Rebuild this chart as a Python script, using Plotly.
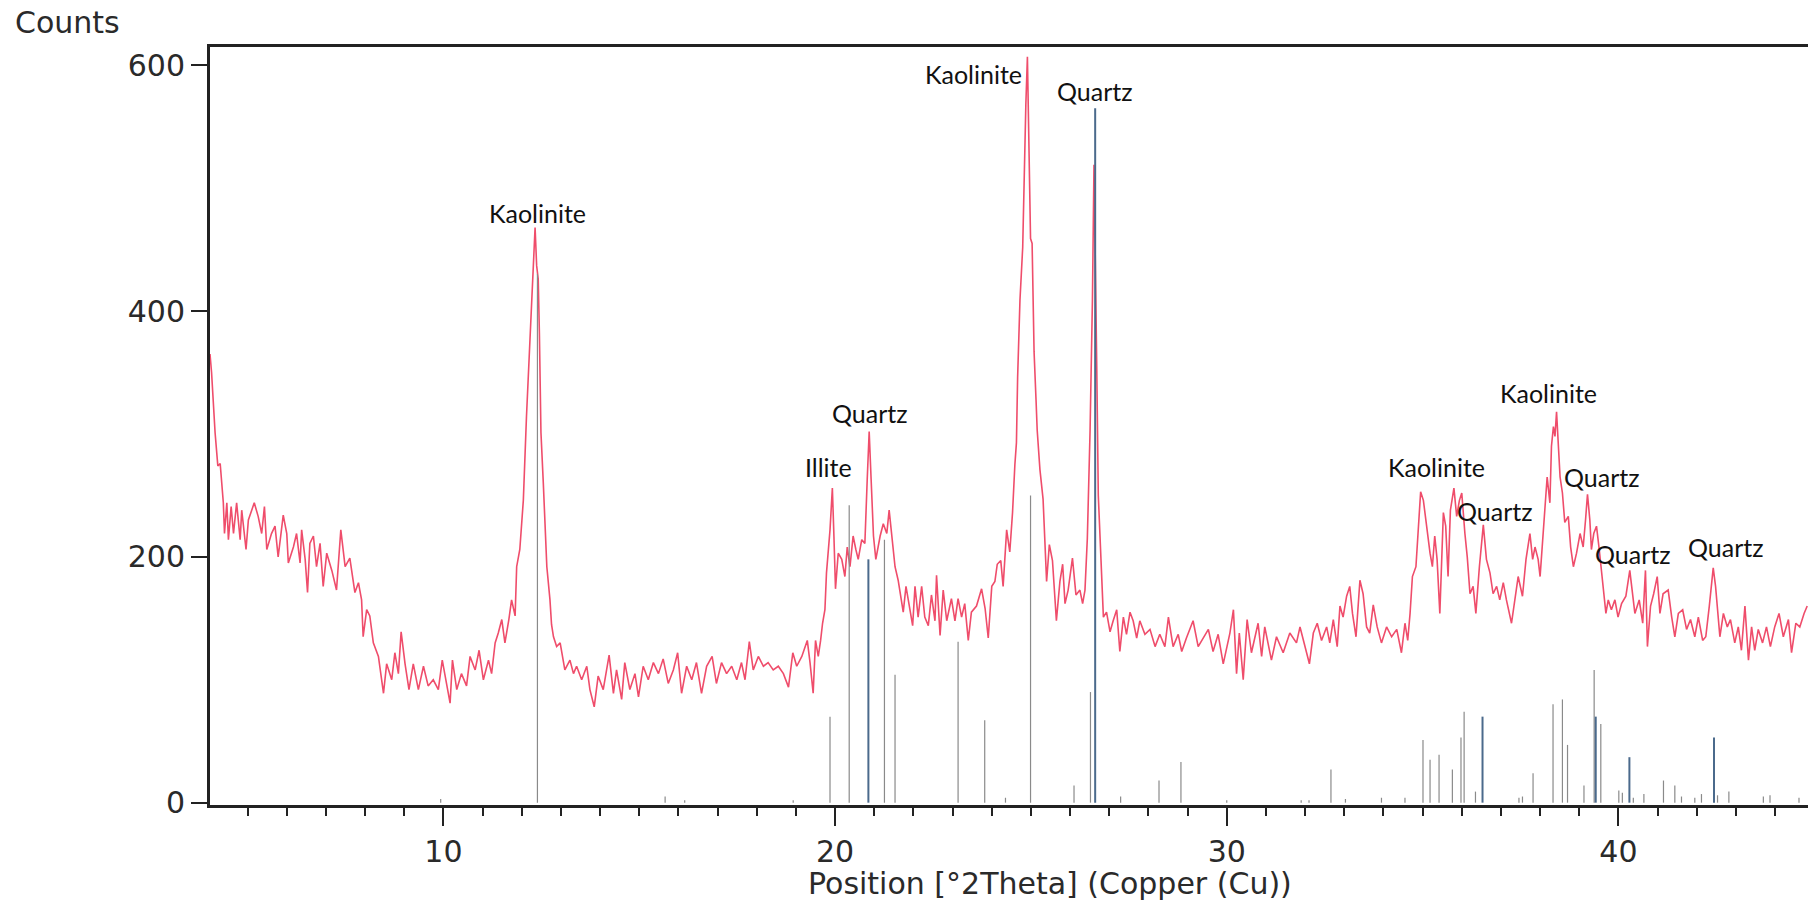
import plotly.graph_objects as go

# ---- measured XRD pattern (2theta in degrees, counts) ----
two_theta = [
    4.04, 4.08, 4.17, 4.24, 4.30, 4.34, 4.38, 4.41, 4.47, 4.51, 4.58, 4.64, 4.72, 4.81, 4.85, 4.96,
    5.02, 5.17, 5.27, 5.36, 5.43, 5.49, 5.61, 5.70, 5.78, 5.91, 6.00, 6.04, 6.17, 6.25, 6.34, 6.38,
    6.47, 6.53, 6.59, 6.68, 6.76, 6.85, 6.93, 7.02, 7.15, 7.27, 7.38, 7.49, 7.61, 7.74, 7.83, 7.91,
    7.95, 8.04, 8.12, 8.21, 8.34, 8.47, 8.55, 8.68, 8.76, 8.85, 8.92, 9.02, 9.12, 9.23, 9.36, 9.49,
    9.61, 9.74, 9.87, 9.97, 10.08, 10.17, 10.23, 10.34, 10.46, 10.59, 10.68, 10.81, 10.91, 11.02,
    11.15, 11.23, 11.32, 11.40, 11.49, 11.57, 11.67, 11.74, 11.83, 11.87, 11.95, 12.04, 12.12, 12.21,
    12.25, 12.30, 12.34, 12.38, 12.42, 12.45, 12.49, 12.55, 12.64, 12.72, 12.76,
    12.81, 12.89, 12.98, 13.10, 13.23, 13.32, 13.40, 13.53, 13.66, 13.74, 13.85, 13.95, 14.08, 14.23,
    14.34, 14.42, 14.55, 14.63, 14.76, 14.89, 14.98, 15.10, 15.23, 15.36, 15.49, 15.61, 15.74, 15.87,
    15.98, 16.08, 16.21, 16.34, 16.46, 16.59, 16.72, 16.86, 16.97, 17.10, 17.23, 17.36, 17.49, 17.61,
    17.70, 17.81, 17.91, 18.04, 18.17, 18.29, 18.42, 18.55, 18.68, 18.81, 18.92, 19.02, 19.15, 19.29,
    19.36, 19.44, 19.50, 19.57, 19.63, 19.68, 19.74, 19.78, 19.87, 19.93, 19.97, 20.01, 20.08, 20.17,
    20.25, 20.31, 20.38, 20.46, 20.53, 20.59, 20.68, 20.76, 20.82, 20.87, 20.92, 20.98, 21.04, 21.15,
    21.23, 21.32, 21.38, 21.44, 21.53, 21.61,
    21.67, 21.74, 21.81, 21.89, 21.98, 22.04, 22.12, 22.21, 22.29, 22.38, 22.46, 22.55, 22.59, 22.68,
    22.76, 22.85, 22.97, 23.06, 23.14, 23.23, 23.31, 23.40, 23.48, 23.61, 23.74, 23.83, 23.91, 24.00,
    24.08, 24.14, 24.23, 24.29, 24.38, 24.46, 24.53, 24.59, 24.63, 24.66, 24.72, 24.79, 24.83, 24.87,
    24.91, 24.95, 24.99, 25.03, 25.06, 25.08, 25.13, 25.16, 25.23, 25.31, 25.40, 25.47, 25.55, 25.65,
    25.74, 25.81, 25.87, 25.95, 26.06, 26.15, 26.25, 26.32, 26.38, 26.44, 26.51, 26.57, 26.61, 26.64,
    26.68, 26.72, 26.78, 26.85, 26.93, 27.02, 27.10, 27.19, 27.27, 27.36, 27.44, 27.53, 27.61, 27.70,
    27.78, 27.91, 28.04, 28.17, 28.29, 28.42, 28.51, 28.63, 28.76, 28.85, 28.97, 29.14, 29.27, 29.40,
    29.53, 29.65, 29.78, 29.91,
    30.08, 30.17, 30.25, 30.32, 30.42, 30.52, 30.63, 30.80, 30.89, 30.97, 31.14, 31.27, 31.44, 31.61,
    31.78, 31.87, 31.99, 32.11, 32.21, 32.31, 32.42, 32.55, 32.63, 32.72, 32.82, 32.89, 32.97, 33.06,
    33.14, 33.21, 33.30, 33.40, 33.48, 33.57, 33.65, 33.74, 33.84, 33.95, 34.08, 34.21, 34.34, 34.46,
    34.55, 34.62, 34.68, 34.74, 34.83, 34.89, 34.95, 35.02, 35.10, 35.19, 35.25, 35.31, 35.37, 35.44,
    35.53, 35.59, 35.65, 35.71, 35.80, 35.87, 35.94, 36.00, 36.08, 36.14, 36.21, 36.29, 36.36, 36.45,
    36.55, 36.63, 36.72, 36.80, 36.89, 36.97, 37.06, 37.14, 37.27, 37.36, 37.44,
    37.55, 37.64, 37.74, 37.81, 37.87, 37.95, 38.00, 38.06, 38.12, 38.18, 38.25, 38.29, 38.34, 38.38,
    38.42, 38.46, 38.51, 38.57, 38.63, 38.72, 38.78, 38.85, 38.93, 39.02, 39.10, 39.16, 39.21, 39.27,
    39.31, 39.37, 39.44, 39.51, 39.57, 39.63, 39.68, 39.74, 39.82, 39.91, 39.99, 40.08, 40.19, 40.29,
    40.36, 40.42, 40.53, 40.62, 40.69, 40.74, 40.82, 40.90, 40.99, 41.06, 41.14, 41.27, 41.36, 41.44,
    41.53, 41.64, 41.74, 41.84, 41.95, 42.04, 42.15, 42.23, 42.32, 42.38, 42.42, 42.48, 42.53, 42.59,
    42.68, 42.78, 42.86, 42.97, 43.06, 43.14, 43.23, 43.32, 43.40, 43.48, 43.57, 43.68, 43.78, 43.88,
    43.99, 44.10, 44.21, 44.34, 44.42, 44.53, 44.63, 44.74, 44.82,
]
counts = [
    365, 350, 301, 274, 276, 263, 244, 219, 244, 214, 241, 219, 244, 214, 238, 206,
    230, 244, 233, 219, 241, 206, 219, 225, 200, 234, 219, 195, 208, 219, 195, 222,
    198, 171, 211, 217, 192, 211, 176, 203, 189, 173, 222, 192, 199, 171, 179, 165,
    135, 157, 152, 130, 119, 89, 113, 100, 122, 105, 139, 113, 92, 113, 92, 111,
    95, 100, 92, 116, 95, 81, 116, 92, 105, 95, 119, 108, 124, 100,
    116, 105, 130, 138, 149, 130, 149, 165, 152, 192, 206, 246, 314, 382,
    399, 437, 468, 437, 426, 382, 301, 260, 192, 165, 145,
    135, 127, 130, 108, 116, 105, 111, 100, 111, 92, 78, 103, 92, 120,
    89, 108, 84, 114, 92, 105, 86, 111, 100, 114, 105, 117, 97, 108,
    122, 89, 111, 100, 114, 89, 111, 119, 97, 114, 105, 111, 100, 114,
    100, 131, 108, 119, 111, 114, 108, 111, 105, 94, 122, 111, 119, 132,
    114, 89, 132, 119, 132, 146, 157, 187, 222, 256, 217, 174, 203, 198,
    184, 208, 192, 217, 206, 198, 214, 211, 263, 302, 263, 217, 198, 217,
    227, 219, 238, 217, 192, 181,
    169, 155, 176, 162, 144, 176, 151, 176, 151, 144, 169, 148, 185, 136,
    173, 148, 166, 148, 166, 151, 162, 132, 155, 160, 174, 158, 134, 176,
    180, 194, 197, 176, 222, 204, 236, 275, 293, 346, 409, 452, 515, 568,
    607, 533, 459, 455, 409, 367, 328, 303, 271, 247, 180, 210, 197, 148,
    180, 194, 162, 173, 199, 169, 173, 162, 173, 215, 303, 409, 519, 462,
    356, 250, 197, 151, 155, 139, 148, 157, 123, 151, 137, 155, 148, 134,
    148, 137, 141, 127, 137, 127, 151, 127, 137, 123, 134, 148, 127, 134,
    141, 123, 137, 113,
    138, 157, 105, 138, 100, 149, 122, 146, 119, 143, 116, 135, 122, 138,
    130, 143, 127, 113, 138, 146, 132, 143, 130, 149, 127, 160, 151, 168,
    176, 154, 135, 181, 170, 143, 138, 161, 143, 130, 143, 135, 141, 122,
    146, 132, 154, 184, 192, 225, 253, 246, 225, 203, 192, 217, 198, 154,
    236, 225, 184, 238, 256, 233, 246, 252, 219, 200, 170, 176, 154, 192,
    226, 198, 187, 170, 176, 165, 179, 165, 146, 168, 184,
    168, 198, 219, 198, 208, 198, 184, 211, 238, 265, 244, 290, 306, 298,
    318, 295, 265, 252, 228, 233, 208, 192, 203, 219, 208, 230, 251, 230,
    206, 219, 225, 206, 187, 168, 154, 165, 157, 165, 151, 162, 168, 189,
    170, 154, 165, 146, 189, 127, 160, 170, 184, 154, 170, 173, 151, 135,
    154, 157, 141, 149, 135, 151, 132, 135, 160, 181, 191, 176, 154, 135,
    154, 143, 149, 130, 143, 124, 160, 116, 143, 124, 141, 130, 143, 127,
    143, 154, 135, 149, 122, 146, 143, 154, 160,
]

# ---- reference stick pattern ----
stick_pos = [9.93, 12.40, 15.66, 16.16, 18.93, 19.87, 20.36, 21.26, 21.53, 23.14, 23.82, 24.35,
             24.99, 26.10, 26.52, 27.29, 28.27, 28.83, 30.00, 31.90, 32.10, 32.66, 33.03, 33.95,
             34.55, 35.01, 35.19, 35.42, 35.76, 35.98, 36.06, 36.35, 37.46, 37.55, 37.82, 38.33,
             38.57, 38.70, 39.12, 39.38, 39.55, 40.01, 40.10, 40.38, 40.65, 41.15, 41.44, 41.61,
             41.95, 42.12, 42.53, 42.82, 43.70, 43.87, 44.61]
stick_int = [3, 430, 5, 2, 2, 70, 242, 214, 104, 131, 67, 4,
             250, 14, 90, 5, 18, 33, 2, 2, 2, 27, 3, 4,
             4, 51, 35, 39, 27, 53, 74, 9, 4, 5, 24, 80,
             84, 47, 14, 108, 64, 10, 8, 4, 7, 18, 14, 5,
             4, 7, 6, 9, 5, 6, 4]
quartz_pos = [20.85, 26.64, 36.53, 39.42, 40.28, 42.44]
quartz_int = [198, 565, 70, 70, 37, 53]

# ---- phase labels ----
label_text = ["Kaolinite", "Illite", "Quartz", "Kaolinite", "Quartz", "Kaolinite", "Quartz",
              "Kaolinite", "Quartz", "Quartz", "Quartz"]
label_x = [12.41, 19.82, 20.89, 23.53, 26.63, 35.35, 36.85, 38.22, 39.59, 40.38, 42.75]
label_y = [480, 273, 317, 593, 579, 273, 237, 333, 265, 202, 208]

y_ticks = [0, 200, 400, 600]
x_ticks = [10, 20, 30, 40]


def sticks(xs, hs):
    px, py = [], []
    for x, h in zip(xs, hs):
        px += [x, x, None]
        py += [0, h, None]
    return px, py


fig = go.Figure()
fig.add_trace(go.Scatter(x=two_theta, y=counts, mode="lines",
                         line=dict(color="#ef4d6b", width=1.6), hoverinfo="skip"))
sx, sy = sticks(stick_pos, stick_int)
fig.add_trace(go.Scatter(x=sx, y=sy, mode="lines",
                         line=dict(color="#8a8a8a", width=1.2), hoverinfo="skip"))
qx, qy = sticks(quartz_pos, quartz_int)
fig.add_trace(go.Scatter(x=qx, y=qy, mode="lines",
                         line=dict(color="#4b6a8c", width=2), hoverinfo="skip"))

for t, x, y in zip(label_text, label_x, label_y):
    fig.add_annotation(x=x, y=y, xref="x", yref="y", text=t, showarrow=False,
                       font=dict(family="Lato", size=25, color="#111"),
                       xanchor="center", yanchor="middle")

fig.add_annotation(x=0.5257, y=-0.104, xref="paper", yref="paper",
                   text="Position [°2Theta] (Copper (Cu))", showarrow=False,
                   font=dict(family="DejaVu Sans", size=30, color="#2a2a2a"),
                   xanchor="center", yanchor="middle")
fig.add_annotation(x=-0.1233, y=1.032, xref="paper", yref="paper",
                   text="Counts", showarrow=False,
                   font=dict(family="DejaVu Sans", size=30, color="#2a2a2a"),
                   xanchor="left", yanchor="middle")

axis_font = dict(family="DejaVu Sans", size=30, color="#2a2a2a")
fig.update_layout(
    width=1808, height=907,
    margin=dict(l=210, r=0, t=47, b=102),
    paper_bgcolor="white", plot_bgcolor="white",
    showlegend=False,
    xaxis=dict(range=[4.04, 44.84], tickvals=x_ticks, ticks="outside", ticklen=18,
               tickwidth=2, tickcolor="#222", showgrid=False, zeroline=False,
               showline=True, linewidth=3, linecolor="#222", mirror=True,
               tickfont=axis_font,
               minor=dict(dtick=1, tick0=0, ticks="outside", ticklen=8, tickwidth=2,
                          tickcolor="#222", showgrid=False)),
    yaxis=dict(range=[-1.9, 614.9], tickvals=y_ticks, ticks="outside", ticklen=16,
               tickwidth=2, tickcolor="#222", showgrid=False, zeroline=False,
               showline=True, linewidth=3, linecolor="#222", mirror=False,
               tickfont=axis_font),
)

fig.write_html("out.html")
